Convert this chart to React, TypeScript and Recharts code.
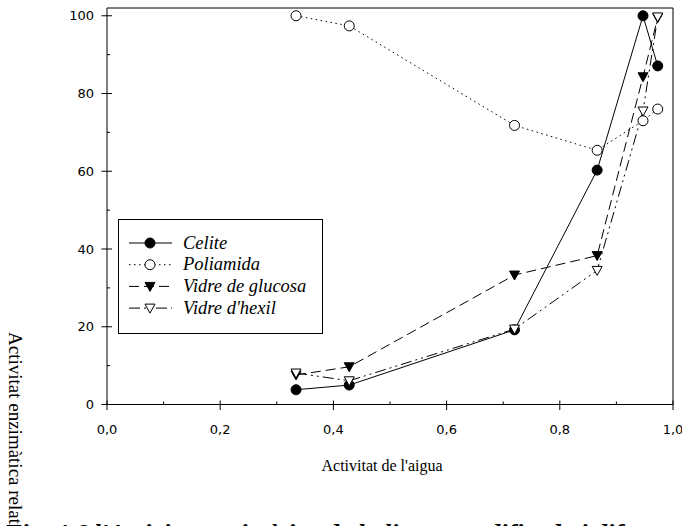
import React from 'react';
import { LineChart, Line, XAxis, YAxis, ReferenceLine, Legend } from 'recharts';

// ---- data ----
const waterActivity = [0.334, 0.428, 0.72, 0.866, 0.947, 0.973];
const celite = [3.8, 5.0, 19.2, 60.3, 100, 87.1];
const poliamida = [100, 97.4, 71.8, 65.4, 73.0, 76.0];
const vidreGlucosa = [7.6, 9.7, 33.3, 38.3, 84.3, 99.5];
const vidreHexil = [8.1, 6.1, 19.4, 34.5, 75.5, 99.7];

const xTicks = [0, 0.1, 0.2, 0.3, 0.4, 0.5, 0.6, 0.7, 0.8, 0.9, 1.0];
const xTickLabels = ['0,0', '0,2', '0,4', '0,6', '0,8', '1,0'];
const yTicks = [0, 10, 20, 30, 40, 50, 60, 70, 80, 90, 100];
const yTickLabels = ['0', '20', '40', '60', '80', '100'];

const seriesNames = ['Celite', 'Poliamida', 'Vidre de glucosa', "Vidre d'hexil"];
const seriesKeys = ['celite', 'poliamida', 'glucosa', 'hexil'];

const xTitle = "Activitat de l'aigua";
const yTitle = 'Activitat enzimàtica relativa (%)';
const caption = "Fig. 4.6  l'Activitat enzimàtica de la lipasa modificada i diferents suports. Efecte";

const data = waterActivity.map((x, i) => ({
  x,
  celite: celite[i],
  poliamida: poliamida[i],
  glucosa: vidreGlucosa[i],
  hexil: vidreHexil[i],
}));

// ---- styles ----
type Marker = 'circle' | 'triangle';
const styles: Record<string, { dash?: string; marker: Marker; filled: boolean }> = {
  celite: { dash: undefined, marker: 'circle', filled: true },
  poliamida: { dash: '1.5 3.5', marker: 'circle', filled: false },
  glucosa: { dash: '10 5', marker: 'triangle', filled: true },
  hexil: { dash: '11 4 2 4 2 4', marker: 'triangle', filled: false },
};

const SERIF = "'Liberation Serif', 'Times New Roman', serif";

const drawMarker = (kind: Marker, filled: boolean, cx: number, cy: number, key?: any) => {
  const fill = filled ? '#000' : '#fff';
  if (kind === 'circle') {
    return <circle key={key} cx={cx} cy={cy} r={5} fill={fill} stroke="#000" strokeWidth={1} strokeDasharray="none" />;
  }
  const pts = `${cx - 5},${cy - 4} ${cx + 5},${cy - 4} ${cx},${cy + 5}`;
  return <polygon key={key} points={pts} fill={fill} stroke="#000" strokeWidth={1} strokeDasharray="none" />;
};

const makeDot = (k: string) => (props: any) => {
  const s = styles[k];
  if (props.cx == null || props.cy == null) return <g key={props.key} />;
  return drawMarker(s.marker, s.filled, props.cx, props.cy, props.key);
};

const XTick = (props: any) => {
  const { x, y, payload } = props;
  const idx = Math.round(payload.value * 10);
  if (idx % 2 !== 0) {
    return <line x1={x} x2={x} y1={y} y2={y - 3} stroke="#000" strokeWidth={1} />;
  }
  return (
    <g>
      <line x1={x} x2={x} y1={y - 4} y2={y + 5.5} stroke="#000" strokeWidth={1} />
      <text x={x} y={y + 29} textAnchor="middle" fontFamily="DejaVu Sans" fontSize={13} fill="#000">
        {xTickLabels[idx / 2]}
      </text>
    </g>
  );
};

const YTick = (props: any) => {
  const { x, y, payload } = props;
  const idx = Math.round(payload.value / 10);
  if (idx % 2 !== 0) {
    return <line x1={x} x2={x + 3} y1={y} y2={y} stroke="#000" strokeWidth={1} />;
  }
  return (
    <g>
      <line x1={x - 5.5} x2={x + 5} y1={y} y2={y} stroke="#000" strokeWidth={1} />
      <text x={x - 13} y={y + 4.7} textAnchor="end" fontFamily="DejaVu Sans" fontSize={13} fill="#000">
        {yTickLabels[idx / 2]}
      </text>
    </g>
  );
};

const LegendBox = () => {
  return (
    <svg width={206} height={116} style={{ display: 'block' }}>
      <rect x={0.5} y={0.5} width={204} height={114} fill="#fff" stroke="#000" strokeWidth={1} />
      {seriesKeys.map((k, i) => {
        const s = styles[k];
        const cy = 24 + i * 21.7;
        return (
          <g key={k}>
            <line x1={11} x2={54} y1={cy} y2={cy} stroke="#000" strokeWidth={1} strokeDasharray={s.dash} />
            {drawMarker(s.marker, s.filled, 32, cy)}
            <text x={65} y={cy + 5.5} style={{ fontFamily: SERIF, fontStyle: 'italic', fontSize: 18.5 }} fill="#000">
              {seriesNames[i]}
            </text>
          </g>
        );
      })}
    </svg>
  );
};

export default function App() {
  return (
    <div style={{ position: 'absolute', left: 0, top: 0, width: 682, height: 526, overflow: 'hidden', background: '#fff' }}>
      <LineChart width={682} height={526} data={data} margin={{ top: 8, right: 9, bottom: 91.5, left: 77 }}>
        <XAxis
          type="number"
          dataKey="x"
          domain={[0, 1]}
          ticks={xTicks}
          interval={0}
          tickSize={0}
          tickMargin={0}
          tickLine={false}
          tick={XTick}
          height={30}
          axisLine={{ stroke: '#000', strokeWidth: 1 }}
        />
        <YAxis
          type="number"
          domain={[0, 102]}
          ticks={yTicks}
          interval={0}
          tickSize={0}
          tickMargin={0}
          tickLine={false}
          tick={YTick}
          width={30}
          axisLine={{ stroke: '#000', strokeWidth: 1 }}
        />
        <ReferenceLine y={102} stroke="#000" strokeWidth={1} />
        <ReferenceLine x={1} stroke="#000" strokeWidth={1} />
        {seriesKeys.map((k, i) => (
          <Line
            key={k}
            dataKey={k}
            name={seriesNames[i]}
            type="linear"
            stroke="#000"
            strokeWidth={1}
            strokeDasharray={styles[k].dash}
            dot={makeDot(k)}
            activeDot={false}
            isAnimationActive={false}
          />
        ))}
        <Legend
          layout="vertical"
          align="center"
          verticalAlign="middle"
          content={LegendBox}
          wrapperStyle={{ left: 118, top: 219, width: 206, height: 116 }}
        />
      </LineChart>
      <svg width={682} height={526} style={{ position: 'absolute', left: 0, top: 0, pointerEvents: 'none' }}>
        <text x={382} y={471} textAnchor="middle" style={{ fontFamily: SERIF, fontSize: 16 }} fill="#000">
          {xTitle}
        </text>
        <text x={9} y={332} transform="rotate(90 9 332)" style={{ fontFamily: SERIF, fontSize: 19 }} fill="#000">
          {yTitle}
        </text>
        <text
          x={4}
          y={541.5}
          style={{ fontFamily: SERIF, fontStyle: 'italic', fontWeight: 'bold', fontSize: 26 }}
          fill="#000"
        >
          {caption}
        </text>
      </svg>
    </div>
  );
}
